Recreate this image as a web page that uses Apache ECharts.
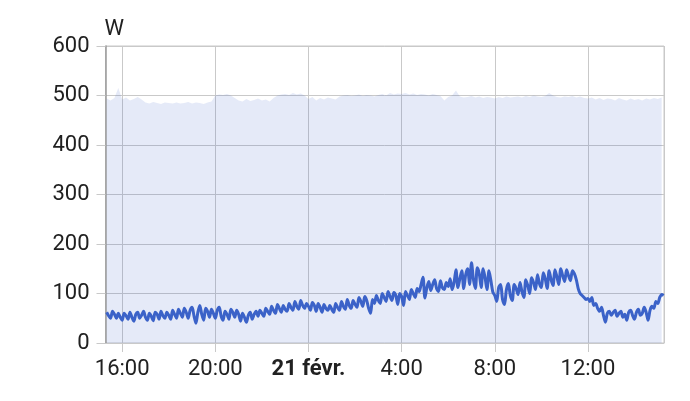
<!DOCTYPE html>
<html>
<head>
<meta charset="utf-8">
<script src="https://cdn.jsdelivr.net/npm/echarts@6/dist/echarts.min.js"></script>
<style>
html,body{margin:0;padding:0;background:#fff;}
#chart{width:690px;height:401px;}
</style>
</head>
<body>
<div id="chart"></div>
<script>
// Time frame (local time)
const meanStart = [2024, 1, 20, 15, 20];
const meanStepMinutes = 5;
const maxStart = [2024, 1, 20, 15, 20];
const maxStepMinutes = 10;
const axisMin = [2024, 1, 20, 15, 17];
const axisMax = [2024, 1, 21, 15, 16];

// Mean power (W), 5-minute samples, rows per hour, 15:20 -> 15:15 next day
const meanW = [
  62, 55, 50, 64, 58, 50, 60, 52,                       // 15h (15:20..)
  46, 60, 55, 48, 62, 52, 44, 58, 62, 50, 56, 64,       // 16h
  52, 46, 60, 54, 45, 62, 58, 48, 64, 55, 50, 62,       // 17h
  56, 48, 66, 58, 50, 68, 60, 52, 70, 62, 50, 66,       // 18h
  72, 55, 40, 62, 76, 58, 46, 70, 64, 52, 68, 60,       // 19h
  50, 66, 72, 54, 46, 64, 58, 48, 68, 62, 52, 66,       // 20h
  58, 44, 60, 52, 42, 56, 62, 48, 58, 64, 54, 66,       // 21h
  60, 54, 70, 64, 58, 74, 66, 60, 78, 70, 62, 76,       // 22h
  68, 64, 80, 72, 66, 84, 74, 68, 86, 76, 70, 80,       // 23h
  74, 66, 82, 76, 64, 80, 72, 62, 78, 70, 66, 76,       // 00h
  68, 62, 80, 72, 66, 84, 74, 68, 88, 76, 70, 86,       // 01h
  78, 72, 92, 84, 74, 94, 86, 70, 60, 88, 80, 96,       // 02h
  86, 80, 100, 92, 84, 104, 94, 86, 102, 96, 78, 100,   // 03h
  94, 76, 104, 96, 88, 108, 100, 92, 110, 104, 118, 133,// 04h
  91, 112, 124, 106, 118, 128, 110, 104, 126, 112, 108, 122, // 05h
  114, 130, 108, 122, 148, 112, 130, 146, 110, 138, 150, 118, // 06h
  162, 128, 110, 152, 140, 112, 150, 132, 108, 146, 126, 103, // 07h
  96, 84, 112, 118, 88, 78, 108, 120, 96, 86, 118, 110, // 08h
  98, 122, 104, 92, 128, 116, 100, 132, 122, 108, 138, 120, // 09h
  112, 142, 130, 110, 146, 128, 116, 148, 134, 118, 150, 136, // 10h
  124, 148, 136, 126, 146, 140, 128, 110, 100, 96, 92, 88, // 11h
  90, 84, 92, 76, 80, 70, 64, 72, 56, 42, 60, 64,       // 12h
  56, 62, 66, 54, 60, 64, 52, 58, 46, 62, 66, 56,       // 13h
  48, 62, 68, 56, 60, 72, 62, 46, 66, 74, 70, 84,       // 14h
  80, 92, 98, 96                                        // 15h (..15:15)
];

// Max power (W) band, 10-minute samples
const maxW = [
  494, 490, 495, 515,
  492, 496, 490, 493, 497, 492,
  486, 484, 487, 485, 483, 486,
  485, 484, 486, 484, 485, 487,
  484, 486, 485, 483, 486, 488,
  500, 502, 501, 503, 500, 495,
  490, 488, 493, 489, 491, 494,
  490, 492, 488, 495, 500, 502,
  503, 501, 505, 502, 504, 500,
  493, 497, 490, 495, 492, 496,
  494, 492, 498, 500, 501, 499,
  500, 502, 499, 501, 500, 498,
  501, 503, 500, 505, 502, 504,
  503, 505, 502, 504, 501, 503,
  502, 500, 503, 501, 499, 490,
  497, 500, 510, 498, 496, 497,
  499, 496, 498, 495, 497, 496,
  494, 497, 495, 498, 496, 497,
  498, 496, 499, 497, 500, 498,
  497, 499, 505, 500, 497, 496,
  498, 497, 499, 496, 498, 495,
  494, 496, 492, 495, 491, 494,
  493, 490, 495, 492, 490, 494,
  491, 493, 490, 494, 492, 495,
  493, 496
];

const yTicks = [0, 100, 200, 300, 400, 500, 600];
const xTickLabels = { 16: '16:00', 20: '20:00', 0: '21 févr.', 4: '4:00', 8: '8:00', 12: '12:00' };
const unitLabel = 'W';

function mkDate(a) { return new Date(a[0], a[1], a[2], a[3], a[4]).getTime(); }
const tm0 = mkDate(meanStart);
const tx0 = mkDate(maxStart);
const meanData = meanW.map((v, i) => [tm0 + i * meanStepMinutes * 60000, v]);
const maxData = maxW.map((v, i) => [tx0 + i * maxStepMinutes * 60000, v]);

const chart = echarts.init(document.getElementById('chart'), null, { renderer: 'canvas' });
const FONT = 'Roboto';
const FS = 22;
const TXT = '#212121';
const GRID_COLOR = '#c9c9c9';
chart.setOption({
  animation: false,
  backgroundColor: '#fff',
  grid: { left: 105.5, right: 26, top: 46, bottom: 58, show: true, borderColor: GRID_COLOR, borderWidth: 1, backgroundColor: 'transparent' },
  xAxis: {
    type: 'time',
    min: mkDate(axisMin),
    max: mkDate(axisMax),
    minInterval: 4 * 3600000,
    maxInterval: 4 * 3600000,
    axisLine: { show: true, lineStyle: { color: GRID_COLOR, width: 1 } },
    axisTick: { show: true, length: 9, lineStyle: { color: GRID_COLOR } },
    splitLine: { show: true, lineStyle: { color: GRID_COLOR, width: 1 } },
    axisLabel: {
      showMinLabel: false, showMaxLabel: false,
      margin: 15,
      fontFamily: FONT, fontSize: FS, color: TXT,
      formatter: function (val) {
        const h = new Date(val).getHours();
        const lbl = xTickLabels[h];
        if (lbl === undefined) return '';
        return h === 0 ? '{b|' + lbl + '}' : lbl;
      },
      rich: { b: { fontFamily: FONT, fontSize: FS, fontWeight: 'bold', color: TXT } }
    }
  },
  yAxis: {
    type: 'value',
    min: yTicks[0], max: yTicks[yTicks.length - 1], interval: 100,
    name: unitLabel,
    nameLocation: 'end',
    nameGap: 6,
    nameTextStyle: { fontFamily: FONT, fontSize: FS, color: TXT, align: 'left', padding: [0, 0, 0, -1] },
    axisLine: { show: true, lineStyle: { color: '#9a9a9a', width: 1.5 } },
    axisTick: { show: true, length: 9, lineStyle: { color: GRID_COLOR } },
    splitLine: { show: true, lineStyle: { color: GRID_COLOR, width: 1 } },
    axisLabel: { margin: 16, fontFamily: FONT, fontSize: FS, color: TXT }
  },
  series: [
    {
      type: 'line', data: maxData, showSymbol: false, symbol: 'none',
      lineStyle: { width: 0 },
      areaStyle: { color: 'rgba(59,98,205,0.19)' },
      z: 1
    },
    {
      type: 'line', data: meanData, showSymbol: false, symbol: 'none',
      smooth: 0.3,
      lineStyle: { width: 3, color: '#3b62c8' },
      itemStyle: { color: '#3b62c8' },
      z: 3
    }
  ]
});
</script>
</body>
</html>
